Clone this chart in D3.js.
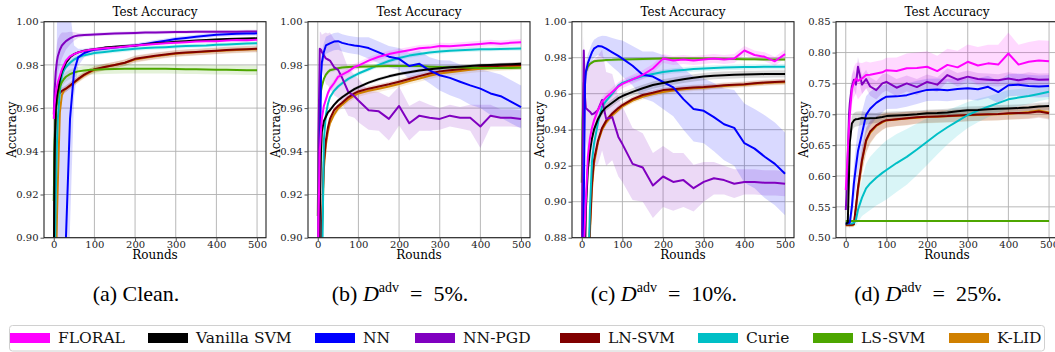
<!DOCTYPE html>
<html>
<head>
<meta charset="utf-8">
<script src="https://cdn.jsdelivr.net/npm/d3@7"></script>
<style>
  body { margin: 0; background: #fff; }
  svg { display: block; }
  .tick text { font-family: "DejaVu Serif", serif; }
</style>
</head>
<body>
<div id="chart"></div>
<script>
var rounds = [0, 2, 5, 8, 10, 15, 20, 25, 30, 40, 50, 60, 75, 90, 100, 125, 150, 175, 200, 225, 250, 275, 300, 325, 350, 375, 400, 425, 450, 475, 500];

var methods = ["FLORAL", "Vanilla SVM", "NN", "NN-PGD", "LN-SVM", "Curie", "LS-SVM", "K-LID"];
var colors = ["#ff00ff", "#000000", "#0000ff", "#8000c0", "#800000", "#00bfc6", "#4da600", "#d08000"];
var drawOrder = ["K-LID", "LN-SVM", "Curie", "LS-SVM", "NN-PGD", "NN", "Vanilla SVM", "FLORAL"];

var xTicks = [0, 100, 200, 300, 400, 500];
var yTicksA = [0.90, 0.92, 0.94, 0.96, 0.98, 1.00];
var yTicksB = [0.90, 0.92, 0.94, 0.96, 0.98, 1.00];
var yTicksC = [0.88, 0.90, 0.92, 0.94, 0.96, 0.98, 1.00];
var yTicksD = [0.50, 0.55, 0.60, 0.65, 0.70, 0.75, 0.80, 0.85];

// (a) clean
var meanA = {
  "FLORAL":      [0.955, 0.962, 0.967, 0.970, 0.972, 0.975, 0.978, 0.980, 0.982, 0.984, 0.985, 0.9858, 0.9865, 0.987, 0.9872, 0.9877, 0.988, 0.9885, 0.989, 0.9893, 0.9897, 0.990, 0.9903, 0.9905, 0.9908, 0.991, 0.991, 0.9913, 0.9915, 0.9914, 0.9917],
  "Vanilla SVM": [0.88, 0.94, 0.960, 0.966, 0.968, 0.973, 0.977, 0.979, 0.981, 0.9835, 0.985, 0.9858, 0.9866, 0.987, 0.9873, 0.988, 0.9884, 0.9888, 0.989, 0.9895, 0.990, 0.9903, 0.9907, 0.991, 0.9913, 0.9915, 0.9918, 0.992, 0.9921, 0.9922, 0.9923],
  "NN":          [0.30, 0.35, 0.45, 0.55, 0.60, 0.70, 0.78, 0.85, 0.90, 0.955, 0.977, 0.9835, 0.9855, 0.9865, 0.987, 0.9875, 0.988, 0.9885, 0.989, 0.9897, 0.9905, 0.9912, 0.992, 0.9925, 0.993, 0.9935, 0.994, 0.9942, 0.9944, 0.9945, 0.9946],
  "NN-PGD":      [0.957, 0.968, 0.977, 0.982, 0.984, 0.987, 0.989, 0.990, 0.991, 0.9923, 0.9932, 0.9936, 0.9938, 0.994, 0.9941, 0.9943, 0.9945, 0.9947, 0.9948, 0.995, 0.995, 0.9951, 0.9952, 0.9952, 0.9953, 0.9953, 0.9954, 0.9954, 0.9954, 0.9955, 0.9955],
  "LN-SVM":      [0.85, 0.93, 0.960, 0.964, 0.966, 0.967, 0.968, 0.9685, 0.969, 0.9705, 0.972, 0.9735, 0.9755, 0.977, 0.978, 0.979, 0.980, 0.981, 0.9828, 0.9835, 0.9842, 0.9848, 0.9854, 0.9857, 0.986, 0.9863, 0.9866, 0.9869, 0.9871, 0.9873, 0.9875],
  "Curie":       [0.85, 0.88, 0.92, 0.945, 0.955, 0.968, 0.975, 0.9775, 0.979, 0.981, 0.9825, 0.9835, 0.9845, 0.985, 0.9855, 0.986, 0.9865, 0.987, 0.9875, 0.9878, 0.988, 0.9882, 0.9885, 0.9887, 0.9889, 0.989, 0.9893, 0.9895, 0.9897, 0.9899, 0.990],
  "LS-SVM":      [0.917, 0.945, 0.958, 0.963, 0.966, 0.970, 0.972, 0.9735, 0.9745, 0.9757, 0.9765, 0.977, 0.9774, 0.9777, 0.9778, 0.978, 0.9781, 0.9782, 0.9782, 0.9782, 0.9782, 0.9782, 0.9781, 0.978, 0.978, 0.9779, 0.9778, 0.9777, 0.9776, 0.9775, 0.9775],
  "K-LID":       [0.80, 0.84, 0.88, 0.91, 0.925, 0.958, 0.966, 0.968, 0.969, 0.9703, 0.9718, 0.9732, 0.9752, 0.9768, 0.9776, 0.979, 0.980, 0.981, 0.9825, 0.9833, 0.984, 0.9846, 0.9852, 0.9855, 0.9858, 0.9861, 0.9864, 0.9867, 0.9869, 0.9871, 0.9872]
};
var spreadA = {
  "FLORAL": 0.0006,
  "Vanilla SVM": 0.0005,
  "NN": [0.5, 0.5, 0.5, 0.45, 0.4, 0.3, 0.25, 0.2, 0.12, 0.05, 0.012, 0.004, 0.002, 0.0015, 0.001, 0.001, 0.001, 0.001, 0.001, 0.001, 0.001, 0.001, 0.001, 0.001, 0.001, 0.001, 0.001, 0.001, 0.001, 0.001, 0.001],
  "NN-PGD": [0.003, 0.006, 0.008, 0.008, 0.008, 0.007, 0.006, 0.005, 0.004, 0.003, 0.002, 0.0012, 0.0008, 0.0008, 0.0008, 0.0008, 0.0008, 0.0008, 0.0008, 0.0008, 0.0008, 0.0008, 0.0008, 0.0008, 0.0008, 0.0008, 0.0008, 0.0008, 0.0008, 0.0008, 0.0008],
  "LN-SVM": 0.0015,
  "Curie": 0.001,
  "LS-SVM": 0.0022,
  "K-LID": 0.0015
};

// (b) 5% adversarial
var meanB = {
  "FLORAL":      [0.86, 0.91, 0.94, 0.95, 0.955, 0.961, 0.964, 0.967, 0.969, 0.9715, 0.9745, 0.9755, 0.977, 0.979, 0.9797, 0.982, 0.9838, 0.985, 0.986, 0.9868, 0.9877, 0.988, 0.9888, 0.9886, 0.989, 0.9893, 0.9897, 0.9901, 0.9898, 0.9902, 0.9905],
  "Vanilla SVM": [0.80, 0.86, 0.91, 0.94, 0.949, 0.954, 0.956, 0.958, 0.959, 0.9615, 0.9635, 0.965, 0.967, 0.9688, 0.9697, 0.9718, 0.9734, 0.9747, 0.9758, 0.9766, 0.9774, 0.978, 0.9785, 0.9789, 0.9792, 0.9795, 0.9798, 0.980, 0.9802, 0.9803, 0.9805],
  "NN":          [0.80, 0.88, 0.93, 0.975, 0.981, 0.986, 0.989, 0.9895, 0.990, 0.9908, 0.991, 0.9902, 0.9895, 0.989, 0.9888, 0.9878, 0.9858, 0.9838, 0.9828, 0.9795, 0.9805, 0.9775, 0.9752, 0.974, 0.9722, 0.9705, 0.969, 0.9668, 0.9655, 0.963, 0.9605],
  "NN-PGD":      [0.85, 0.95, 0.9875, 0.987, 0.986, 0.9845, 0.983, 0.9825, 0.982, 0.979, 0.9777, 0.974, 0.9675, 0.9655, 0.9635, 0.959, 0.9585, 0.955, 0.961, 0.953, 0.9565, 0.9555, 0.955, 0.9565, 0.9555, 0.9555, 0.9515, 0.9565, 0.9555, 0.9555, 0.955],
  "LN-SVM":      [0.70, 0.78, 0.85, 0.89, 0.905, 0.935, 0.945, 0.951, 0.955, 0.959, 0.961, 0.9625, 0.965, 0.9668, 0.9677, 0.969, 0.970, 0.971, 0.9722, 0.9735, 0.9748, 0.976, 0.977, 0.9775, 0.978, 0.9785, 0.979, 0.9793, 0.9796, 0.9798, 0.980],
  "Curie":       [0.70, 0.75, 0.80, 0.85, 0.875, 0.945, 0.957, 0.962, 0.965, 0.968, 0.970, 0.9715, 0.9735, 0.975, 0.976, 0.978, 0.980, 0.9818, 0.9832, 0.9843, 0.985, 0.9857, 0.9862, 0.9866, 0.9868, 0.987, 0.9872, 0.9873, 0.9874, 0.9875, 0.9876],
  "LS-SVM":      [0.91, 0.945, 0.962, 0.968, 0.970, 0.9735, 0.9755, 0.9767, 0.9775, 0.978, 0.9785, 0.9788, 0.979, 0.9792, 0.9792, 0.9793, 0.9794, 0.9795, 0.9795, 0.9795, 0.9795, 0.9792, 0.979, 0.9789, 0.9788, 0.9787, 0.9786, 0.9786, 0.9786, 0.9786, 0.9787],
  "K-LID":       [0.68, 0.76, 0.84, 0.885, 0.90, 0.932, 0.943, 0.949, 0.953, 0.957, 0.9598, 0.9615, 0.964, 0.9658, 0.9668, 0.968, 0.969, 0.970, 0.9712, 0.9725, 0.9737, 0.975, 0.976, 0.9766, 0.9772, 0.9777, 0.9782, 0.9785, 0.9788, 0.979, 0.9792]
};
var spreadB = {
  "FLORAL": 0.0015,
  "Vanilla SVM": 0.0008,
  "NN": [0.01, 0.01, 0.01, 0.006, 0.005, 0.004, 0.004, 0.004, 0.004, 0.004, 0.004, 0.004, 0.004, 0.004, 0.004, 0.005, 0.005, 0.005, 0.005, 0.006, 0.006, 0.006, 0.007, 0.008, 0.008, 0.009, 0.009, 0.01, 0.01, 0.01, 0.01],
  "NN-PGD": [0.01, 0.01, 0.008, 0.008, 0.008, 0.01, 0.012, 0.012, 0.013, 0.013, 0.013, 0.012, 0.011, 0.010, 0.010, 0.009, 0.009, 0.010, 0.009, 0.008, 0.007, 0.006, 0.005, 0.005, 0.005, 0.006, 0.010, 0.005, 0.004, 0.004, 0.004],
  "LN-SVM": 0.0012,
  "Curie": 0.001,
  "LS-SVM": 0.001,
  "K-LID": 0.0015
};

// (c) 10% adversarial
var meanC = {
  "FLORAL":      [0.80, 0.84, 0.87, 0.89, 0.90, 0.925, 0.935, 0.941, 0.945, 0.951, 0.9555, 0.958, 0.961, 0.964, 0.9655, 0.968, 0.9705, 0.974, 0.9795, 0.9785, 0.979, 0.9785, 0.979, 0.9795, 0.979, 0.9795, 0.984, 0.9815, 0.9805, 0.978, 0.982],
  "Vanilla SVM": [0.70, 0.75, 0.82, 0.87, 0.895, 0.918, 0.928, 0.935, 0.940, 0.946, 0.950, 0.9525, 0.955, 0.9575, 0.9587, 0.961, 0.963, 0.9648, 0.966, 0.967, 0.968, 0.9688, 0.9695, 0.970, 0.9703, 0.9705, 0.9707, 0.9708, 0.9709, 0.971, 0.971],
  "NN":          [0.75, 0.82, 0.90, 0.965, 0.972, 0.977, 0.980, 0.983, 0.985, 0.9865, 0.9862, 0.985, 0.983, 0.981, 0.9795, 0.9755, 0.9705, 0.9695, 0.9665, 0.9635, 0.957, 0.9515, 0.9505, 0.947, 0.943, 0.941, 0.9325, 0.9295, 0.925, 0.921, 0.9155],
  "NN-PGD":      [0.86, 0.93, 0.984, 0.958, 0.952, 0.951, 0.950, 0.9485, 0.949, 0.951, 0.9565, 0.946, 0.947, 0.936, 0.932, 0.921, 0.919, 0.909, 0.914, 0.911, 0.912, 0.9075, 0.911, 0.913, 0.912, 0.910, 0.911, 0.911, 0.9105, 0.9105, 0.910],
  "LN-SVM":      [0.60, 0.65, 0.72, 0.78, 0.81, 0.85, 0.885, 0.91, 0.923, 0.934, 0.941, 0.945, 0.949, 0.952, 0.9537, 0.957, 0.9593, 0.9605, 0.962, 0.9625, 0.963, 0.9635, 0.9637, 0.9642, 0.9647, 0.965, 0.9653, 0.9658, 0.9662, 0.9665, 0.9668],
  "Curie":       [0.60, 0.65, 0.70, 0.75, 0.78, 0.85, 0.895, 0.922, 0.932, 0.944, 0.953, 0.956, 0.960, 0.9645, 0.966, 0.968, 0.9698, 0.971, 0.972, 0.9727, 0.9732, 0.9737, 0.974, 0.9743, 0.9745, 0.9747, 0.9748, 0.9749, 0.975, 0.975, 0.975],
  "LS-SVM":      [0.9105, 0.945, 0.966, 0.970, 0.972, 0.975, 0.9765, 0.9773, 0.978, 0.9783, 0.9785, 0.9787, 0.9788, 0.979, 0.979, 0.9792, 0.9793, 0.9794, 0.9795, 0.9795, 0.9795, 0.9795, 0.9795, 0.9795, 0.9794, 0.9793, 0.9792, 0.9791, 0.979, 0.979, 0.979],
  "K-LID":       [0.58, 0.63, 0.70, 0.76, 0.80, 0.845, 0.882, 0.907, 0.921, 0.933, 0.940, 0.944, 0.948, 0.951, 0.953, 0.9562, 0.9583, 0.9598, 0.961, 0.9618, 0.9624, 0.963, 0.9633, 0.9638, 0.9643, 0.9647, 0.965, 0.9655, 0.9659, 0.9662, 0.9664]
};
var spreadC = {
  "FLORAL": 0.0025,
  "Vanilla SVM": 0.002,
  "NN": [0.01, 0.01, 0.006, 0.005, 0.005, 0.005, 0.005, 0.005, 0.005, 0.005, 0.006, 0.007, 0.008, 0.009, 0.010, 0.011, 0.013, 0.014, 0.015, 0.016, 0.017, 0.018, 0.018, 0.019, 0.020, 0.021, 0.022, 0.022, 0.023, 0.023, 0.023],
  "NN-PGD": [0.01, 0.01, 0.008, 0.012, 0.018, 0.024, 0.028, 0.03, 0.03, 0.03, 0.028, 0.026, 0.024, 0.022, 0.021, 0.02, 0.019, 0.018, 0.017, 0.016, 0.015, 0.013, 0.011, 0.009, 0.008, 0.008, 0.007, 0.007, 0.007, 0.007, 0.007],
  "LN-SVM": 0.0015,
  "Curie": 0.0015,
  "LS-SVM": 0.0008,
  "K-LID": 0.0015
};

// (d) 25% adversarial
var meanD = {
  "FLORAL":      [0.577, 0.60, 0.64, 0.68, 0.70, 0.74, 0.752, 0.758, 0.754, 0.758, 0.7635, 0.764, 0.766, 0.768, 0.7715, 0.770, 0.7745, 0.775, 0.777, 0.770, 0.780, 0.776, 0.785, 0.779, 0.7825, 0.7805, 0.7985, 0.7805, 0.785, 0.787, 0.786],
  "Vanilla SVM": [0.523, 0.523, 0.525, 0.60, 0.655, 0.685, 0.690, 0.692, 0.6925, 0.694, 0.693, 0.6935, 0.694, 0.6955, 0.697, 0.698, 0.699, 0.700, 0.7015, 0.702, 0.703, 0.705, 0.7065, 0.707, 0.708, 0.709, 0.7095, 0.710, 0.711, 0.7125, 0.7133],
  "NN":          [0.523, 0.523, 0.524, 0.524, 0.525, 0.55, 0.588, 0.615, 0.64, 0.669, 0.699, 0.709, 0.7185, 0.725, 0.7285, 0.729, 0.731, 0.7355, 0.7395, 0.740, 0.739, 0.741, 0.742, 0.7405, 0.7445, 0.736, 0.747, 0.748, 0.746, 0.745, 0.7458],
  "NN-PGD":      [0.545, 0.57, 0.63, 0.70, 0.718, 0.745, 0.756, 0.748, 0.777, 0.748, 0.757, 0.745, 0.739, 0.750, 0.7525, 0.743, 0.750, 0.744, 0.7525, 0.748, 0.7635, 0.756, 0.761, 0.757, 0.756, 0.755, 0.758, 0.755, 0.758, 0.756, 0.7565],
  "LN-SVM":      [0.521, 0.521, 0.521, 0.521, 0.521, 0.521, 0.522, 0.55, 0.58, 0.626, 0.658, 0.672, 0.682, 0.688, 0.6905, 0.692, 0.6935, 0.695, 0.696, 0.6965, 0.697, 0.698, 0.6988, 0.6995, 0.700, 0.7005, 0.7015, 0.702, 0.7025, 0.7045, 0.7015],
  "Curie":       [0.523, 0.523, 0.523, 0.523, 0.523, 0.523, 0.524, 0.529, 0.545, 0.565, 0.58, 0.588, 0.597, 0.605, 0.6097, 0.621, 0.631, 0.643, 0.6556, 0.668, 0.679, 0.689, 0.6988, 0.706, 0.7123, 0.718, 0.7242, 0.727, 0.7296, 0.733, 0.7366],
  "LS-SVM":      [0.527, 0.527, 0.527, 0.527, 0.527, 0.527, 0.527, 0.527, 0.527, 0.527, 0.527, 0.527, 0.527, 0.527, 0.527, 0.527, 0.527, 0.527, 0.527, 0.527, 0.527, 0.527, 0.527, 0.527, 0.527, 0.527, 0.527, 0.527, 0.527, 0.527, 0.527],
  "K-LID":       [0.520, 0.520, 0.520, 0.520, 0.520, 0.520, 0.521, 0.548, 0.578, 0.624, 0.656, 0.670, 0.681, 0.687, 0.690, 0.6915, 0.693, 0.6945, 0.6955, 0.696, 0.6968, 0.6975, 0.6985, 0.699, 0.6995, 0.700, 0.701, 0.702, 0.7035, 0.706, 0.703]
};
var spreadD = {
  "FLORAL": [0.01, 0.02, 0.02, 0.025, 0.025, 0.025, 0.025, 0.025, 0.03, 0.025, 0.022, 0.02, 0.02, 0.02, 0.02, 0.022, 0.024, 0.025, 0.025, 0.025, 0.026, 0.027, 0.028, 0.03, 0.03, 0.032, 0.034, 0.032, 0.032, 0.033, 0.033],
  "Vanilla SVM": [0.002, 0.002, 0.004, 0.02, 0.015, 0.012, 0.012, 0.012, 0.012, 0.011, 0.01, 0.009, 0.008, 0.008, 0.007, 0.007, 0.006, 0.006, 0.006, 0.006, 0.006, 0.006, 0.006, 0.006, 0.006, 0.006, 0.006, 0.006, 0.006, 0.006, 0.006],
  "NN": [0.003, 0.003, 0.004, 0.006, 0.01, 0.02, 0.03, 0.035, 0.035, 0.035, 0.03, 0.028, 0.025, 0.022, 0.02, 0.02, 0.019, 0.019, 0.018, 0.018, 0.018, 0.018, 0.018, 0.018, 0.018, 0.018, 0.018, 0.018, 0.018, 0.018, 0.018],
  "NN-PGD": [0.01, 0.015, 0.02, 0.02, 0.02, 0.018, 0.016, 0.016, 0.016, 0.015, 0.015, 0.015, 0.015, 0.015, 0.014, 0.014, 0.013, 0.013, 0.012, 0.012, 0.011, 0.011, 0.01, 0.01, 0.01, 0.01, 0.01, 0.01, 0.01, 0.01, 0.01],
  "LN-SVM": [0.003, 0.003, 0.003, 0.003, 0.003, 0.003, 0.004, 0.012, 0.018, 0.02, 0.02, 0.018, 0.015, 0.013, 0.012, 0.011, 0.011, 0.01, 0.01, 0.01, 0.01, 0.01, 0.01, 0.01, 0.01, 0.01, 0.01, 0.01, 0.01, 0.01, 0.01],
  "Curie": [0.002, 0.002, 0.002, 0.002, 0.002, 0.002, 0.002, 0.01, 0.02, 0.03, 0.04, 0.043, 0.045, 0.047, 0.048, 0.047, 0.045, 0.042, 0.038, 0.033, 0.028, 0.024, 0.021, 0.019, 0.017, 0.016, 0.015, 0.014, 0.013, 0.012, 0.012],
  "LS-SVM": 0,
  "K-LID": [0.003, 0.003, 0.003, 0.003, 0.003, 0.003, 0.004, 0.012, 0.018, 0.02, 0.02, 0.018, 0.015, 0.013, 0.012, 0.011, 0.011, 0.01, 0.01, 0.01, 0.01, 0.01, 0.01, 0.01, 0.01, 0.01, 0.01, 0.01, 0.01, 0.01, 0.01]
};

var panels = [
  {mean: meanA, spread: spreadA, yTicks: yTicksA, caption: ["(a) Clean."]},
  {mean: meanB, spread: spreadB, yTicks: yTicksB, caption: ["(b) ", "D", "adv", "\u2002=\u20025%."]},
  {mean: meanC, spread: spreadC, yTicks: yTicksC, caption: ["(c) ", "D", "adv", "\u2002=\u200210%."]},
  {mean: meanD, spread: spreadD, yTicks: yTicksD, caption: ["(d) ", "D", "adv", "\u2002=\u200225%."]}
];

var W = 1055, H = 352;
var plotW = 222, plotH = 216, plotTop = 21.7, step = 264, left0 = 44;
var serif = "'DejaVu Serif', serif";

var svg = d3.select("#chart").append("svg")
  .attr("width", W).attr("height", H);

var colorOf = d3.scaleOrdinal().domain(methods).range(colors);

function sdAt(s, k) { return Array.isArray(s) ? s[k] : s; }

panels.forEach(function(p, i) {
  var x = d3.scaleLinear().domain([-24, 522]).range([0, plotW]);
  var y = d3.scaleLinear().domain([p.yTicks[0], p.yTicks[p.yTicks.length - 1]]).range([plotH, 0]);

  var g = svg.append("g")
    .attr("transform", "translate(" + (left0 + i * step) + "," + plotTop + ")");

  g.append("clipPath").attr("id", "clip" + i)
    .append("rect").attr("width", plotW).attr("height", plotH);

  // grid
  g.append("g").selectAll("line").data(xTicks).enter().append("line")
    .attr("x1", function(d) { return x(d); }).attr("x2", function(d) { return x(d); })
    .attr("y1", 0).attr("y2", plotH)
    .attr("stroke", "#b0b0b0").attr("stroke-width", 0.9);
  g.append("g").selectAll("line").data(p.yTicks).enter().append("line")
    .attr("y1", function(d) { return y(d); }).attr("y2", function(d) { return y(d); })
    .attr("x1", 0).attr("x2", plotW)
    .attr("stroke", "#b0b0b0").attr("stroke-width", 0.9);

  var plot = g.append("g").attr("clip-path", "url(#clip" + i + ")");

  // std bands
  drawOrder.forEach(function(m) {
    var vals = p.mean[m], s = p.spread[m];
    var pts = rounds.map(function(r, k) { return [r, vals[k], sdAt(s, k)]; });
    plot.append("path")
      .datum(pts)
      .attr("fill", colorOf(m))
      .attr("fill-opacity", 0.15)
      .attr("d", d3.area()
        .x(function(d) { return x(d[0]); })
        .y0(function(d) { return y(d[1] - d[2]); })
        .y1(function(d) { return y(d[1] + d[2]); }));
  });

  // mean lines
  drawOrder.forEach(function(m) {
    var vals = p.mean[m];
    plot.append("path")
      .datum(rounds.map(function(r, k) { return [r, vals[k]]; }))
      .attr("fill", "none")
      .attr("stroke", colorOf(m))
      .attr("stroke-width", 2)
      .attr("stroke-linejoin", "round")
      .attr("d", d3.line()
        .x(function(d) { return x(d[0]); })
        .y(function(d) { return y(d[1]); }));
  });

  // frame
  g.append("rect").attr("width", plotW).attr("height", plotH)
    .attr("fill", "none").attr("stroke", "#222").attr("stroke-width", 1.1);

  var xAxis = g.append("g").attr("transform", "translate(0," + plotH + ")")
    .call(d3.axisBottom(x).tickValues(xTicks).tickSize(3.5).tickPadding(0));
  var yAxis = g.append("g")
    .call(d3.axisLeft(y).tickValues(p.yTicks).tickSize(3.5).tickPadding(2).tickFormat(d3.format(".2f")));
  [xAxis, yAxis].forEach(function(a) {
    a.select(".domain").remove();
    a.selectAll(".tick line").attr("stroke", "#555");
    a.selectAll("text").attr("font-size", 10).attr("fill", "#222");
  });

  g.append("text").attr("x", plotW / 2).attr("y", -6)
    .attr("text-anchor", "middle").attr("font-family", serif).attr("font-size", 12)
    .text("Test Accuracy");
  g.append("text").attr("x", plotW / 2).attr("y", plotH + 21.5)
    .attr("text-anchor", "middle").attr("font-family", serif).attr("font-size", 12)
    .text("Rounds");
  g.append("text")
    .attr("transform", "translate(-28," + (plotH / 2) + ") rotate(-90)")
    .attr("text-anchor", "middle").attr("font-family", serif).attr("font-size", 12)
    .text("Accuracy");

  // caption
  var cap = svg.append("text")
    .attr("x", 136 + i * step).attr("y", 301)
    .attr("text-anchor", "middle")
    .attr("font-family", "'Liberation Serif', 'Times New Roman', Times, serif").attr("font-size", 22);
  if (p.caption.length === 1) {
    cap.text(p.caption[0]);
  } else {
    cap.append("tspan").text(p.caption[0]);
    cap.append("tspan").attr("font-style", "italic").text(p.caption[1]);
    cap.append("tspan").attr("font-size", 14).attr("dy", -9).text(p.caption[2]);
    cap.append("tspan").attr("dy", 9).text(p.caption[3]);
  }
});

// legend
var legendX = [10, 148, 315, 415, 560, 698, 813, 949];
svg.append("rect")
  .attr("x", 9.5).attr("y", 325.5).attr("width", 1035).attr("height", 25.5).attr("rx", 3)
  .attr("fill", "#fff").attr("stroke", "#d0d0d0");
var leg = svg.append("g").selectAll("g").data(methods).enter().append("g")
  .attr("transform", function(d, k) { return "translate(" + legendX[k] + ",333)"; });
leg.append("rect").attr("width", 40).attr("height", 10)
  .attr("fill", function(d) { return colorOf(d); });
leg.append("text").attr("x", 48).attr("y", 10)
  .attr("font-family", serif).attr("font-size", 15.5).attr("fill", "#111")
  .text(function(d) { return d; });
</script>
</body>
</html>
